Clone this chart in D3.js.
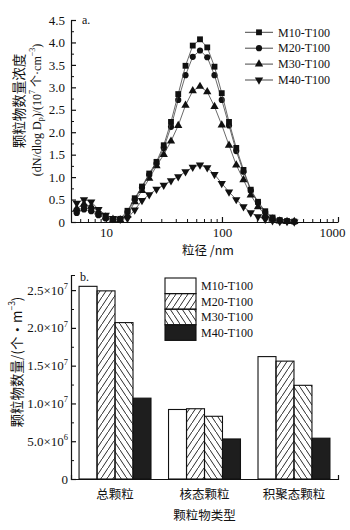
<!DOCTYPE html>
<html>
<head>
<meta charset="utf-8">
<script src="https://cdn.jsdelivr.net/npm/d3@7"></script>
<style>
body { margin: 0; background: #fff; }
text { font-family: "Liberation Serif", "Noto Sans CJK SC", serif; fill: #111; }
.cjk { font-family: "Noto Sans CJK SC", "Liberation Serif", sans-serif; }
.axis path, .axis line { stroke: #111; stroke-width: 1.2; }
.minor line { stroke-width: 1; }
</style>
</head>
<body>
<svg width="350" height="530"></svg>
<script>
// ---- panel a: size distributions ----
const diameters = [5.60, 6.47, 7.47, 8.62, 9.96, 11.5, 13.28, 15.33, 17.71, 20.45,
  23.61, 27.27, 31.49, 36.37, 41.99, 48.5, 56.0, 64.67, 74.68, 86.24,
  99.58, 115.0, 132.8, 153.3, 177.1, 204.5, 236.1, 272.7, 314.9, 363.7, 420.0];

const m10 = [0.25, 0.33, 0.28, 0.18, 0.10, 0.06, 0.07, 0.25, 0.53, 0.79,
  1.08, 1.34, 1.71, 2.23, 2.85, 3.48, 3.93, 4.07, 3.89, 3.46,
  2.87, 2.23, 1.65, 1.16, 0.72, 0.45, 0.24, 0.10, 0.04, 0.02, 0.01];
const m20 = [0.20, 0.28, 0.24, 0.15, 0.08, 0.05, 0.06, 0.22, 0.50, 0.77,
  1.05, 1.30, 1.65, 2.12, 2.72, 3.27, 3.68, 3.82, 3.67, 3.27,
  2.72, 2.15, 1.58, 1.12, 0.70, 0.43, 0.22, 0.09, 0.04, 0.02, 0.01];
const m30 = [0.30, 0.40, 0.35, 0.22, 0.11, 0.06, 0.05, 0.15, 0.45, 0.70,
  0.97, 1.25, 1.50, 1.80, 2.15, 2.60, 2.92, 3.02, 2.90, 2.57,
  2.16, 1.71, 1.27, 0.94, 0.60, 0.34, 0.16, 0.06, 0.02, 0.01, 0.01];
const m40 = [0.42, 0.50, 0.45, 0.28, 0.15, 0.08, 0.06, 0.08, 0.27, 0.48,
  0.61, 0.73, 0.82, 0.92, 1.01, 1.12, 1.22, 1.27, 1.21, 1.06,
  0.86, 0.67, 0.50, 0.34, 0.21, 0.12, 0.06, 0.03, 0.01, 0.01, 0.00];

const seriesNames = ['M10-T100', 'M20-T100', 'M30-T100', 'M40-T100'];
const topYTicks = [0, 0.5, 1.0, 1.5, 2.0, 2.5, 3.0, 3.5, 4.0, 4.5];
const topYLabels = ['0', '0.5', '1.0', '1.5', '2.0', '2.5', '3.0', '3.5', '4.0', '4.5'];
const topXTicks = [10, 100, 1000];

// ---- panel b: counts by particle type ----
const categories = ['总颗粒', '核态颗粒', '积聚态颗粒'];
const barM10 = [2.55e7, 0.92e7, 1.62e7];
const barM20 = [2.49e7, 0.93e7, 1.56e7];
const barM30 = [2.07e7, 0.83e7, 1.24e7];
const barM40 = [1.07e7, 0.53e7, 0.54e7];
const bottomYTicks = [0, 5e6, 1e7, 1.5e7, 2e7, 2.5e7];
const bottomYLabels = [['0', ''], ['5.0×10', '6'], ['1.0×10', '7'], ['1.5×10', '7'], ['2.0×10', '7'], ['2.5×10', '7']];

const svg = d3.select('svg');
const defs = svg.append('defs');

// hatch patterns
const hw = 6, hh = 9;
defs.append('pattern')
    .attr('id', 'hatchFwd')
    .attr('patternUnits', 'userSpaceOnUse')
    .attr('width', hw).attr('height', hh)
  .append('path')
    .attr('d', `M${-1},${hh + hh / hw} L${hw + 1},${-hh / hw}`)
    .attr('stroke', '#111').attr('stroke-width', 0.9);
defs.append('pattern')
    .attr('id', 'hatchBack')
    .attr('patternUnits', 'userSpaceOnUse')
    .attr('width', hw).attr('height', hh)
  .append('path')
    .attr('d', `M${-1},${-hh / hw} L${hw + 1},${hh + hh / hw}`)
    .attr('stroke', '#111').attr('stroke-width', 0.9);

/* ================= panel a ================= */
const xA = d3.scaleLog().domain([5, 1000]).range([71, 338]);
const yA = d3.scaleLinear().domain([0, 4.5]).range([222, 20]);

const minorX = [];
[1, 10, 100].forEach(base => d3.range(2, 10).forEach(k => {
    const v = base * k;
    if (v >= 5 && v < 1000 && v !== 10 && v !== 100) minorX.push(v);
}));
const minorYA = d3.range(0.25, 4.5, 0.5);

const gA = svg.append('g');

gA.append('g').attr('class', 'axis')
    .attr('transform', 'translate(0,222)')
    .call(d3.axisBottom(xA).tickValues(topXTicks).tickFormat(d3.format('d'))
        .tickSize(-5).tickSizeOuter(0).tickPadding(6))
    .call(g => g.selectAll('text').attr('font-size', 13).attr('font-family', null))
    .call(g => g.selectAll('.tick').filter(d => d === 1000).select('text').attr('x', -6));
gA.append('g').attr('class', 'axis minor')
    .attr('transform', 'translate(0,222)')
    .call(d3.axisBottom(xA).tickValues(minorX).tickFormat('').tickSize(-3).tickSizeOuter(0))
    .call(g => g.select('.domain').remove());

gA.append('g').attr('class', 'axis')
    .attr('transform', 'translate(71,0)')
    .call(d3.axisLeft(yA).tickValues(topYTicks).tickFormat((d, i) => topYLabels[i])
        .tickSize(-5).tickSizeOuter(0).tickPadding(6))
    .call(g => g.selectAll('text').attr('font-size', 13).attr('font-family', null));
gA.append('g').attr('class', 'axis minor')
    .attr('transform', 'translate(71,0)')
    .call(d3.axisLeft(yA).tickValues(minorYA).tickFormat('').tickSize(-3).tickSizeOuter(0))
    .call(g => g.select('.domain').remove());

const seriesA = [m10, m20, m30, m40];
const symbols = [
    {type: d3.symbolSquare, size: 34, rot: 0},
    {type: d3.symbolCircle, size: 30, rot: 0},
    {type: d3.symbolTriangle, size: 30, rot: 0},
    {type: d3.symbolTriangle, size: 30, rot: 180}
];
const line = d3.line().x((d, i) => xA(diameters[i])).y(d => yA(d));

for (let s = 3; s >= 0; s--) {
    const vals = seriesA[s];
    gA.append('path')
        .attr('d', line(vals))
        .attr('fill', 'none')
        .attr('stroke', '#444')
        .attr('stroke-width', 0.8);
    gA.append('g').selectAll('path')
        .data(vals)
        .join('path')
        .attr('d', d3.symbol().type(symbols[s].type).size(symbols[s].size))
        .attr('transform', (d, i) => `translate(${xA(diameters[i])},${yA(d)}) rotate(${symbols[s].rot})`)
        .attr('fill', '#111');
}

// legend a
const legA = gA.append('g');
seriesNames.forEach((name, i) => {
    const y = 32.3 + i * 15.9;
    legA.append('line').attr('x1', 245).attr('x2', 273).attr('y1', y).attr('y2', y)
        .attr('stroke', '#333').attr('stroke-width', 0.9);
    legA.append('path')
        .attr('d', d3.symbol().type(symbols[i].type).size(symbols[i].size))
        .attr('transform', `translate(259,${y}) rotate(${symbols[i].rot})`)
        .attr('fill', '#111');
    legA.append('text').attr('x', 278).attr('y', y + 4.2)
        .attr('font-size', 12).text(name);
});

gA.append('text').attr('x', 82).attr('y', 24).attr('font-size', 12).text('a.');

gA.append('text').attr('class', 'cjk')
    .attr('x', 208).attr('y', 255).attr('text-anchor', 'middle')
    .attr('font-size', 12.5).text('粒径 /nm');

gA.append('text').attr('class', 'cjk')
    .attr('transform', 'translate(18,101) rotate(-90)')
    .attr('text-anchor', 'middle').attr('dominant-baseline', 'central')
    .attr('font-size', 13.5).text('颗粒物数量浓度');

const yl2 = gA.append('text')
    .attr('transform', 'translate(37,110) rotate(-90)')
    .attr('text-anchor', 'middle').attr('dominant-baseline', 'central')
    .attr('font-size', 12);
yl2.append('tspan').text('(dN/dlog D');
yl2.append('tspan').attr('font-size', 8).attr('dy', 3).text('p');
yl2.append('tspan').attr('dy', -3).text(')/(10');
yl2.append('tspan').attr('font-size', 8).attr('dy', -5).text('7');
yl2.append('tspan').attr('dy', 5).text(' 个·cm');
yl2.append('tspan').attr('font-size', 8).attr('dy', -5).text('−3');
yl2.append('tspan').attr('dy', 5).text(')');

/* ================= panel b ================= */
const xB = d3.scaleBand().domain(categories).range([71, 338])
    .paddingInner(0.196).paddingOuter(0.09);
const xSub = d3.scaleBand().domain(seriesNames).range([0, xB.bandwidth()]);
const yB = d3.scaleLinear().domain([0, 2.7e7]).range([479, 275]);
const minorYB = d3.range(2.5e6, 2.7e7, 5e6);

const gB = svg.append('g');
const barSeries = [barM10, barM20, barM30, barM40];
const fills = ['#fff', 'url(#hatchFwd)', 'url(#hatchBack)', '#1e1e1e'];

categories.forEach((cat, c) => {
    seriesNames.forEach((name, s) => {
        const v = barSeries[s][c];
        gB.append('rect')
            .attr('x', xB(cat) + xSub(name))
            .attr('y', yB(v))
            .attr('width', xSub.bandwidth())
            .attr('height', yB(0) - yB(v))
            .attr('fill', fills[s])
            .attr('stroke', '#111')
            .attr('stroke-width', 1.1);
    });
});

gB.append('g').attr('class', 'axis')
    .attr('transform', 'translate(0,479)')
    .call(d3.axisBottom(xB).tickSize(0).tickSizeOuter(-4).tickPadding(11))
    .call(g => g.selectAll('text').attr('class', 'cjk').attr('font-size', 12.5).attr('font-family', null));

gB.append('g').attr('class', 'axis')
    .attr('transform', 'translate(71,0)')
    .call(d3.axisLeft(yB).tickValues(bottomYTicks).tickFormat('')
        .tickSize(-5).tickSizeOuter(-4));
gB.append('g').attr('class', 'axis minor')
    .attr('transform', 'translate(71,0)')
    .call(d3.axisLeft(yB).tickValues(minorYB).tickFormat('').tickSize(-3).tickSizeOuter(0))
    .call(g => g.select('.domain').remove());

bottomYTicks.forEach((v, i) => {
    const t = gB.append('text')
        .attr('x', 68).attr('y', yB(v) + 4.5)
        .attr('text-anchor', 'end').attr('font-size', 13);
    t.append('tspan').text(bottomYLabels[i][0]);
    if (bottomYLabels[i][1]) {
        t.append('tspan').attr('font-size', 8.5).attr('dy', -5.5).text(bottomYLabels[i][1]);
    }
});

// legend b
const legB = gB.append('g');
seriesNames.forEach((name, i) => {
    const y = 278 + i * 15.6;
    legB.append('rect').attr('x', 165).attr('y', y).attr('width', 31).attr('height', 15.6)
        .attr('fill', fills[i]).attr('stroke', '#111').attr('stroke-width', 1.1);
    legB.append('text').attr('x', 201).attr('y', y + 12)
        .attr('font-size', 12).text(name);
});

gB.append('text').attr('x', 80).attr('y', 281).attr('font-size', 12).text('b.');

gB.append('text').attr('class', 'cjk')
    .attr('x', xB('核态颗粒') + xB.bandwidth() / 2).attr('y', 520)
    .attr('text-anchor', 'middle').attr('font-size', 12.5).text('颗粒物类型');

const ylB = gB.append('text').attr('class', 'cjk')
    .attr('transform', 'translate(16,362) rotate(-90)')
    .attr('text-anchor', 'middle').attr('dominant-baseline', 'central')
    .attr('font-size', 13.5);
ylB.append('tspan').text('颗粒物数量/(个·m');
ylB.append('tspan').attr('font-size', 8.5).attr('dy', -5).text('−3');
ylB.append('tspan').attr('dy', 5).text(')');
</script>
</body>
</html>
